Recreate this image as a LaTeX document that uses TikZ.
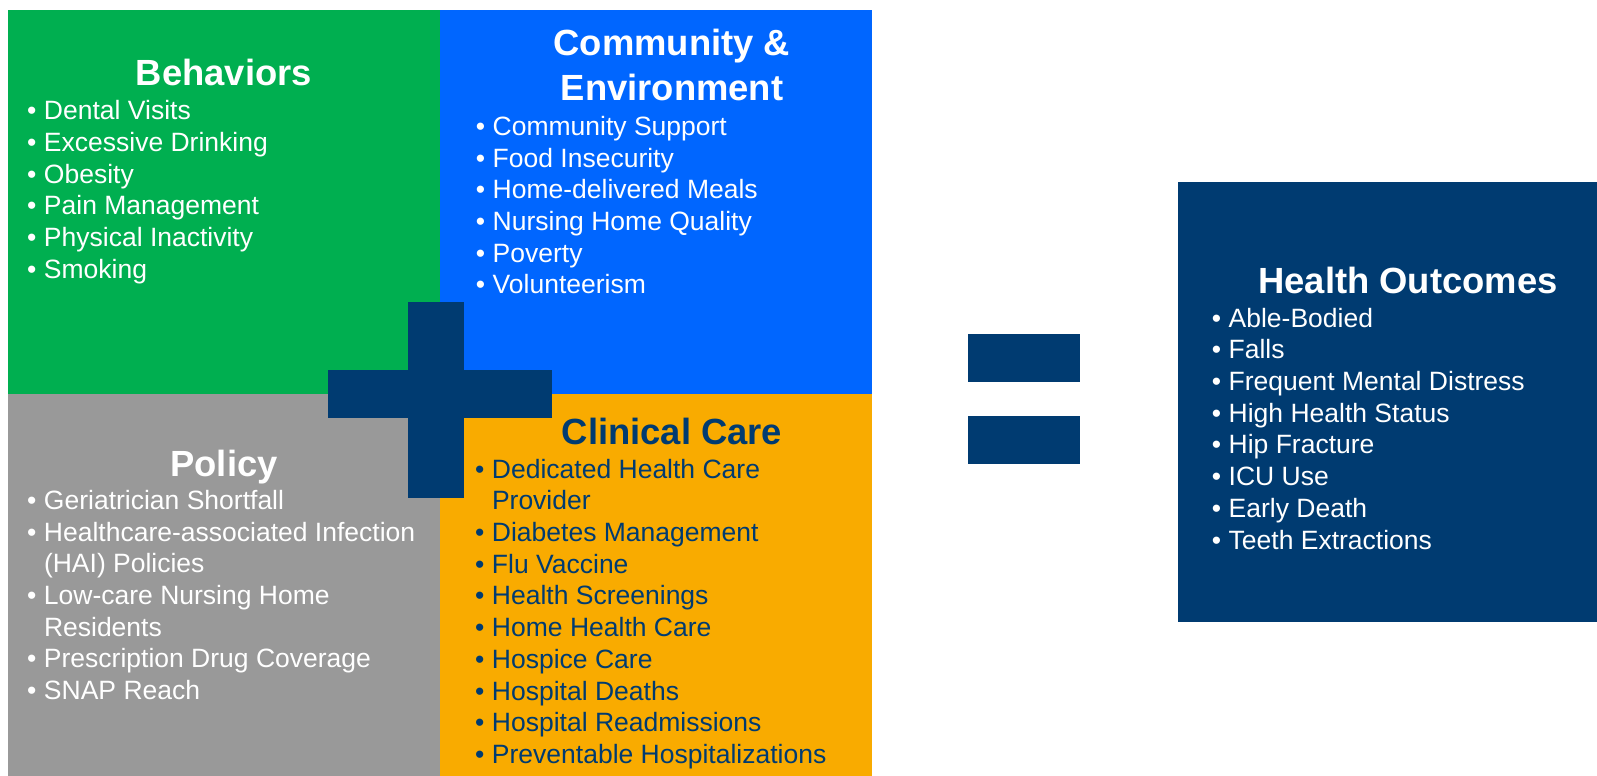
\documentclass[tikz,border=0pt]{standalone}
\usepackage{fontspec}
\setmainfont{Liberation Sans}
\usepackage{tikz}
\usetikzlibrary{calc}
\definecolor{behgreen}{HTML}{00AF50}
\definecolor{comblue}{HTML}{0066FF}
\definecolor{polgrey}{HTML}{999999}
\definecolor{clinorange}{HTML}{F9AB00}
\definecolor{navy}{HTML}{003B71}
\newcommand{\bul}{\rule{0pt}{12pt}\makebox[8.4pt][l]{•}}
\newcommand{\ind}{\hspace*{8.4pt}}
\tikzstyle{head}=[anchor=base, inner sep=0pt, align=center, text=white, font=\fontsize{18.2}{22.5}\selectfont\bfseries]
\tikzstyle{list}=[anchor=north west, inner sep=0pt, align=left, text=white, font=\fontsize{13.25}{15.85}\selectfont]

\begin{document}
\begin{tikzpicture}[x=0.5pt,y=-0.5pt]
      \useasboundingbox (0,0) rectangle (1597,776);

      % four panels
      \fill[behgreen] (8,10) rectangle (440,394);
      \fill[comblue] (440,10) rectangle (872,394);
      \fill[polgrey] (8,394) rectangle (440,776);
      \fill[clinorange] (440,394) rectangle (872,776);

      % plus and equals
      \fill[navy] (408,302) rectangle (464,498);
      \fill[navy] (328,370) rectangle (552,418);
      \fill[navy] (968,334) rectangle (1080,382);
      \fill[navy] (968,416) rectangle (1080,464);

      % outcome panel
      \fill[navy] (1178,182) rectangle (1597,622);

      \node [head] (beh) at (224,85) {Behaviors};
      \node [list] (behlist) at (26.8,95.3) {\bul Dental Visits\\ \bul Excessive Drinking\\ \bul Obesity\\
        \bul Pain Management\\ \bul Physical Inactivity\\ \bul Smoking};

      \node [head] (com) at (672,100) {Community \&\\ Environment};
      \node [list] (comlist) at (475.5,111) {\bul Community Support\\ \bul Food Insecurity\\ \bul Home-delivered Meals\\
        \bul Nursing Home Quality\\ \bul Poverty\\ \bul Volunteerism};

      \node [head] (pol) at (224,476) {Policy};
      \node [list] (pollist) at (26.8,485) {\bul Geriatrician Shortfall\\ \bul Healthcare-associated Infection\\ \ind(HAI) Policies\\
        \bul Low-care Nursing Home\\ \ind Residents\\ \bul Prescription Drug Coverage\\ \bul SNAP Reach};

      \node [head, text=navy] (clin) at (672,444) {Clinical Care};
      \node [list, text=navy] (clinlist) at (474.8,453.7) {\bul Dedicated Health Care\\ \ind Provider\\ \bul Diabetes Management\\
        \bul Flu Vaccine\\ \bul Health Screenings\\ \bul Home Health Care\\ \bul Hospice Care\\ \bul Hospital Deaths\\
        \bul Hospital Readmissions\\ \bul Preventable Hospitalizations};

      \node [head] (out) at (1408,293.3) {Health Outcomes};
      \node [list] (outlist) at (1211.5,302.7) {\bul Able-Bodied\\ \bul Falls\\ \bul Frequent Mental Distress\\
        \bul High Health Status\\ \bul Hip Fracture\\ \bul ICU Use\\ \bul Early Death\\ \bul Teeth Extractions};
\end{tikzpicture}
\end{document}
